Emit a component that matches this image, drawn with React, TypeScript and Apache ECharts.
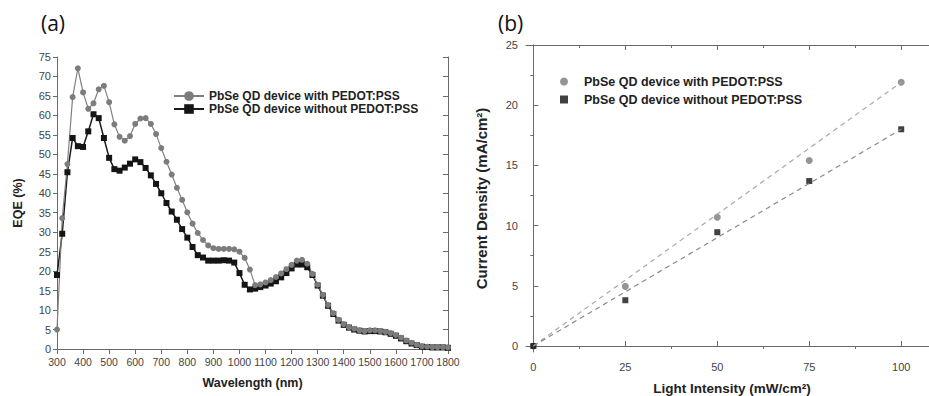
import React, { useEffect, useRef } from "react";
import * as echarts from "echarts";

const wavelengths = [300,320,340,360,380,400,420,440,460,480,500,520,540,560,580,600,620,640,660,680,700,720,740,760,780,800,820,840,860,880,900,920,940,960,980,1000,1020,1040,1060,1080,1100,1120,1140,1160,1180,1200,1220,1240,1260,1280,1300,1320,1340,1360,1380,1400,1420,1440,1460,1480,1500,1520,1540,1560,1580,1600,1620,1640,1660,1680,1700,1720,1740,1760,1780,1800];
const eqeWith = [5.0,33.6,47.5,64.7,72.1,65.9,61.7,63.1,66.7,67.6,63.4,57.7,54.5,53.5,54.7,57.8,59.2,59.3,57.8,55.2,51.6,48.1,44.8,41.4,38.3,35.1,32.2,29.8,28.0,26.6,25.9,25.7,25.7,25.7,25.6,25.0,23.4,20.4,16.4,16.6,17.1,17.7,18.5,19.4,20.5,21.6,22.7,22.9,21.9,19.3,16.5,13.9,11.3,9.2,7.5,6.4,5.6,5.2,4.8,4.6,4.8,4.8,4.6,4.4,4.1,3.6,2.9,2.2,1.6,1.1,0.7,0.6,0.5,0.5,0.5,0.4];
const eqeWithout = [19.0,29.6,45.4,54.2,52.1,51.9,55.9,60.3,59.3,54.2,49.1,46.2,45.8,46.6,47.6,48.7,48.0,46.5,44.6,42.4,40.0,37.5,35.3,33.2,30.8,28.6,26.2,24.1,23.5,22.7,22.7,22.7,22.8,22.7,22.2,19.5,16.5,15.3,15.5,15.9,16.3,16.8,17.4,18.4,19.5,20.7,21.7,21.7,21.0,19.0,16.3,13.7,11.1,9.0,7.3,6.2,5.5,5.0,4.7,4.5,4.6,4.6,4.5,4.3,3.9,3.4,2.7,2.0,1.4,1.0,0.6,0.5,0.4,0.4,0.4,0.3];

const intensity = [0, 25, 50, 75, 100];
const jWith = [0, 4.95, 10.7, 15.4, 21.9];
const jWithout = [0, 3.8, 9.45, 13.7, 18.0];
const fitX = [0, 100];
const fitWith = [0, 21.9];
const fitWithout = [0, 18.0];

const xTicksB = [0, 25, 50, 75, 100];
const xMinorB = [12.5, 37.5, 62.5, 87.5];
const yTicksB = [0, 5, 10, 15, 20, 25];
const yMinorB = [2.5, 7.5, 12.5, 17.5, 22.5];

const nameWith = "PbSe QD device with PEDOT:PSS";
const nameWithout = "PbSe QD device without PEDOT:PSS";

const FONT = "Liberation Sans, Arial, sans-serif";
const AXIS = "#6a6a6a";
const LABEL = "#444";

export default function App() {
  const ref = useRef<HTMLDivElement>(null);
  useEffect(() => {
    if (!ref.current) return;
    const chart = echarts.init(ref.current, null, { renderer: "svg" });
    const lbl = { color: LABEL, fontSize: 11, fontFamily: FONT };
    const nameStyle = { color: "#222", fontSize: 12.5, fontWeight: "bold" as const, fontFamily: FONT };
    const pair = (xs: number[], ys: number[]) => xs.map((x, i) => [x, ys[i]]);
    const plain = (v: number) => String(v);

    chart.setOption({
      animation: false,
      backgroundColor: "#fff",
      title: [
        { text: "(a)", left: 36, top: 7, textStyle: { fontSize: 21, fontWeight: "normal", color: "#111", fontFamily: "Open Sans, sans-serif" } },
        { text: "(b)", left: 493, top: 7, textStyle: { fontSize: 21, fontWeight: "normal", color: "#111", fontFamily: "Open Sans, sans-serif" } },
      ],
      legend: [
        {
          data: [nameWith, nameWithout],
          orient: "vertical",
          left: 168,
          top: 85,
          itemGap: 1,
          itemWidth: 30,
          itemHeight: 12,
          textStyle: { fontSize: 12, fontWeight: "bold", color: "#222", fontFamily: FONT },
        },
        {
          data: [
            { name: nameWith + " ", icon: "circle" },
            { name: nameWithout + " ", icon: "rect" },
          ],
          orient: "vertical",
          left: 555,
          top: 70,
          itemGap: 5,
          itemWidth: 8,
          itemHeight: 8,
          textStyle: { fontSize: 12.5, fontWeight: "bold", color: "#222", fontFamily: FONT, padding: [0, 0, 0, 11] },
        },
      ],
      grid: [
        { left: 57, right: 481, top: 57, bottom: 47, outerBoundsMode: "none", containLabel: false },
        { left: 526, right: -9, top: 45, bottom: 44, outerBoundsMode: "none", containLabel: false },
      ],
      xAxis: [
        {
          gridIndex: 0, type: "value", min: 300, max: 1800, interval: 100,
          name: "Wavelength (nm)", nameLocation: "middle", nameGap: 27, nameTextStyle: nameStyle,
          axisLine: { lineStyle: { color: AXIS } },
          axisTick: { inside: false, length: 4, lineStyle: { color: AXIS } },
          axisLabel: { ...lbl, fontSize: 10.5, margin: 7, formatter: plain, showMaxLabel: true, showMinLabel: true, hideOverlap: false },
          splitLine: { show: false },
        },
        {
          gridIndex: 0, type: "value", min: 300, max: 1800, interval: 100, position: "top",
          axisLine: { lineStyle: { color: AXIS } },
          axisTick: { inside: true, length: 5, lineStyle: { color: AXIS } },
          axisLabel: { show: false }, splitLine: { show: false },
        },
        {
          gridIndex: 1, type: "value", min: -2, max: 110,
          name: "Light Intensity (mW/cm²)", nameLocation: "middle", nameGap: 29,
          nameTextStyle: { ...nameStyle, fontSize: 13.5 },
          axisLine: { lineStyle: { color: AXIS } },
          axisTick: { inside: true, length: 5, customValues: xTicksB, lineStyle: { color: AXIS } },
          axisLabel: { ...lbl, margin: 9, customValues: xTicksB },
          splitLine: { show: false },
        },
        {
          gridIndex: 1, type: "value", min: -2, max: 110,
          axisLine: { show: false },
          axisTick: { inside: true, length: 3, customValues: xMinorB, lineStyle: { color: AXIS } },
          axisLabel: { show: false, customValues: xMinorB }, splitLine: { show: false },
        },
        {
          gridIndex: 1, type: "value", min: -2, max: 110, position: "top",
          axisLine: { lineStyle: { color: AXIS } },
          axisTick: { inside: true, length: 5, customValues: xTicksB, lineStyle: { color: AXIS } },
          axisLabel: { show: false, customValues: xTicksB }, splitLine: { show: false },
        },
        {
          gridIndex: 1, type: "value", min: -2, max: 110, position: "top",
          axisLine: { show: false },
          axisTick: { inside: true, length: 3, customValues: xMinorB, lineStyle: { color: AXIS } },
          axisLabel: { show: false, customValues: xMinorB }, splitLine: { show: false },
        },
      ],
      yAxis: [
        {
          gridIndex: 0, type: "value", min: 0, max: 75, interval: 5,
          name: "EQE (%)", nameLocation: "middle", nameGap: 33, nameTextStyle: nameStyle,
          axisLine: { lineStyle: { color: AXIS } },
          axisTick: { inside: false, length: 4, lineStyle: { color: AXIS } },
          axisLabel: { ...lbl, margin: 6 },
          splitLine: { show: false },
        },
        {
          gridIndex: 0, type: "value", min: 0, max: 75, interval: 5, position: "right",
          axisLine: { lineStyle: { color: AXIS } },
          axisTick: { inside: true, length: 5, lineStyle: { color: AXIS } },
          axisLabel: { show: false }, splitLine: { show: false },
        },
        {
          gridIndex: 1, type: "value", min: -0.5, max: 25,
          name: "Current Density (mA/cm²)", nameLocation: "middle", nameGap: 37,
          nameTextStyle: { ...nameStyle, fontSize: 15 },
          axisLine: { lineStyle: { color: AXIS } },
          axisTick: { inside: true, length: 5, customValues: yTicksB, lineStyle: { color: AXIS } },
          axisLabel: { ...lbl, margin: 8, customValues: yTicksB },
          splitLine: { show: false },
        },
        {
          gridIndex: 1, type: "value", min: -0.5, max: 25,
          axisLine: { show: false },
          axisTick: { inside: true, length: 3, customValues: yMinorB, lineStyle: { color: AXIS } },
          axisLabel: { show: false, customValues: yMinorB }, splitLine: { show: false },
        },
      ],
      series: [
        {
          name: nameWithout, type: "line", xAxisIndex: 0, yAxisIndex: 0,
          data: pair(wavelengths, eqeWithout),
          symbol: "rect", symbolSize: 6,
          lineStyle: { color: "#1a1a1a", width: 1.5 },
          itemStyle: { color: "#151515" },
        },
        {
          name: nameWith, type: "line", xAxisIndex: 0, yAxisIndex: 0,
          data: pair(wavelengths, eqeWith),
          symbol: "circle", symbolSize: 6,
          lineStyle: { color: "#808080", width: 1.2 },
          itemStyle: { color: "#7c7c7c" },
        },
        {
          name: "fit with", type: "line", xAxisIndex: 2, yAxisIndex: 2,
          data: pair(fitX, fitWith), symbol: "none", silent: true,
          lineStyle: { color: "#a8a8a8", width: 1.2, type: [5, 4] },
        },
        {
          name: "fit without", type: "line", xAxisIndex: 2, yAxisIndex: 2,
          data: pair(fitX, fitWithout), symbol: "none", silent: true,
          lineStyle: { color: "#8a8a8a", width: 1.2, type: [5, 4] },
        },
        {
          name: nameWith + " ", type: "scatter", xAxisIndex: 2, yAxisIndex: 2,
          data: pair(intensity, jWith), symbol: "circle", symbolSize: 7,
          itemStyle: { color: "#7a7a7a" },
        },
        {
          name: nameWithout + " ", type: "scatter", xAxisIndex: 2, yAxisIndex: 2,
          data: pair(intensity, jWithout), symbol: "rect", symbolSize: 6,
          itemStyle: { color: "#111" },
        },
      ],
    });
    return () => chart.dispose();
  }, []);
  return (
    <div
      ref={ref}
      style={{ position: "fixed", left: 0, top: 0, width: 929, height: 396, background: "#fff" }}
    />
  );
}
